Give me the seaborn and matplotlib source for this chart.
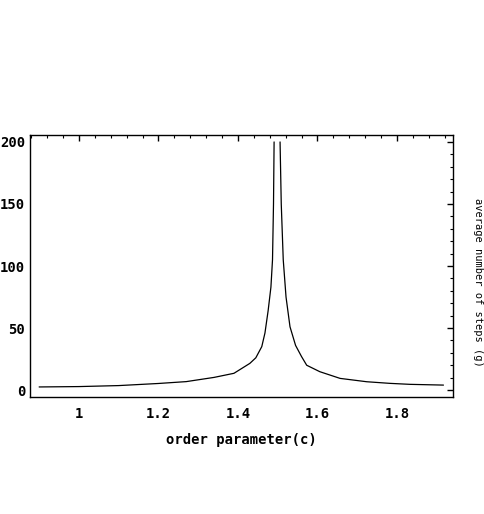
import matplotlib
matplotlib.use("Agg")
import matplotlib.pyplot as plt
import seaborn as sns
import pandas as pd
from matplotlib.ticker import MultipleLocator

# Data
c_left = [0.90, 1.00, 1.10, 1.20, 1.27, 1.34, 1.39, 1.43, 1.445, 1.46, 1.468, 1.476, 1.483, 1.487, 1.4895, 1.491]
g_left = [2.5, 2.8, 3.6, 5.3, 6.8, 10.2, 13.5, 21.5, 26, 35, 46, 64, 83, 105, 150, 200]
c_right = [1.506, 1.509, 1.514, 1.521, 1.531, 1.545, 1.560, 1.573, 1.606, 1.657, 1.724, 1.782, 1.833, 1.917]
g_right = [200, 150, 105, 75, 51, 36, 27, 20, 14.8, 9.4, 6.7, 5.4, 4.6, 4.0]

x_ticks = [1.0, 1.2, 1.4, 1.6, 1.8]
x_tick_labels = ["1", "1.2", "1.4", "1.6", "1.8"]
y_ticks = [0, 50, 100, 150, 200]
x_label = "order parameter(c)"
y_label = "average number of steps (g)"

sns.set_theme(style="white")
plt.rcParams['font.family'] = ['DejaVu Sans Mono', 'DejaVu Sans']

fig = plt.figure(figsize=(4.85, 5.14), dpi=100)
ax = fig.add_axes([30/485, 1-397/514, (453-30)/485, (397-135)/514])

left = pd.DataFrame({"c": c_left, "g": g_left})
right = pd.DataFrame({"c": c_right, "g": g_right})
sns.lineplot(data=left, x="c", y="g", ax=ax, color="black", linewidth=0.9)
sns.lineplot(data=right, x="c", y="g", ax=ax, color="black", linewidth=0.9)

ax.set_xlim(0.877, 1.941)
ax.set_ylim(-5.6, 205.6)
ax.set_xticks(x_ticks)
ax.set_xticklabels(x_tick_labels)
ax.set_yticks(y_ticks)
ax.xaxis.set_minor_locator(MultipleLocator(0.04))
ax.yaxis.set_minor_locator(MultipleLocator(10))
ax.tick_params(which="both", direction="in", top=True, right=True, color="black")
ax.tick_params(which="major", length=4, width=1)
ax.tick_params(which="minor", length=2, width=0.8)
ax.tick_params(axis="x", which="major", pad=7.5)
ax.tick_params(axis="y", which="major", pad=3.5)
for lab in ax.get_xticklabels() + ax.get_yticklabels():
    lab.set_fontweight("bold")
    lab.set_fontsize(10)
    lab.set_color("black")
for s in ax.spines.values():
    s.set_color("black")
    s.set_linewidth(1.0)

ax.set_xlabel(x_label, fontsize=10, fontweight="bold", color="black", labelpad=8)
ax.set_ylabel("")
fig.text(478/485, 1-282/514, y_label, rotation=270, fontsize=7.5, color="black",
         ha="center", va="center")

fig.savefig("out.png", dpi=100, facecolor="white")
